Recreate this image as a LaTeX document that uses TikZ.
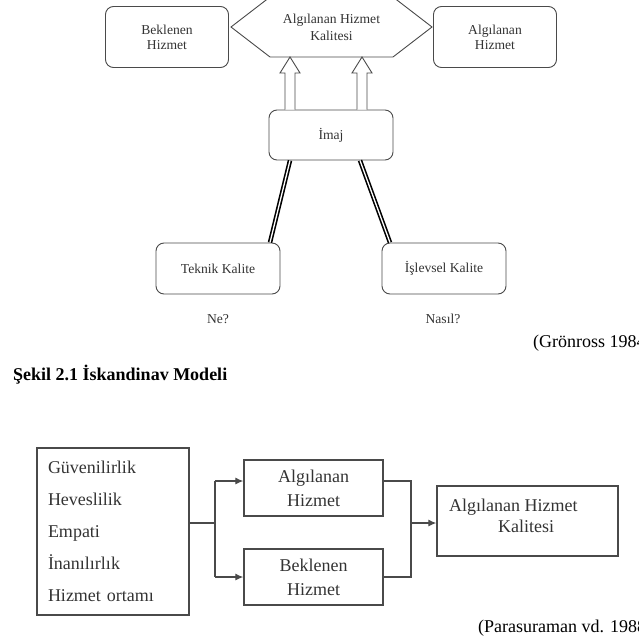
\documentclass[tikz,border=0pt]{standalone}
\usepackage{fontspec}
\setmainfont{Liberation Serif}
\usetikzlibrary{calc,arrows.meta}
\definecolor{ln}{HTML}{4A4A4A}
\definecolor{tx}{HTML}{333333}
\tikzset{
 rbox/.style={draw=ln, line width=0.9pt, rounded corners=8pt, minimum width=123pt, minimum height=61pt, align=center, text=tx, font=\fontsize{13.6}{15}\selectfont, inner sep=0pt},
 sbox/.style={draw=ln, line width=1.3pt, align=center, text=tx, font=\fontsize{18}{24}\selectfont, inner sep=0pt},
 tri/.style={draw=black, line width=1.6pt, double=white, double distance=1.3pt},
 hollow/.style={draw=ln, line width=0.9pt, fill=white, line join=miter},
 conn/.style={draw=ln, line width=1.2pt},
 arr/.style={conn, -{Latex[length=8pt,width=7pt]}},
 lbl/.style={text=tx, font=\fontsize{13.6}{15}\selectfont, inner sep=0pt},
 big/.style={text=black, font=\fontsize{18}{22}\selectfont, inner sep=0pt}
}
\begin{document}
\begin{tikzpicture}[x=1pt,y=-1pt]
\useasboundingbox (0,0) rectangle (638,640);
\clip (0,0) rectangle (638,640);
% ---------- top model ----------
\node[rbox] (bek) at (167,37) {Beklenen\\Hizmet};
\node[rbox] (alg) at (495,37) {Algılanan\\Hizmet};
\coordinate (hxl) at (231,27);
\coordinate (hxbl) at (270,57);
\coordinate (hxbr) at (393,57);
\coordinate (hxr) at (432,27);
\coordinate (hxtr) at (393,-3);
\coordinate (hxtl) at (270,-3);
\draw[draw=ln, line width=0.9pt] (hxl) -- (hxbl) -- (hxbr) -- (hxr) -- (hxtr) -- (hxtl) -- cycle;
\node[lbl, align=center, font=\fontsize{13.6}{17}\selectfont] (hex) at (331.5,27) {Algılanan Hizmet\\Kalitesi};
\node[rbox, minimum width=124pt, minimum height=50pt] (imaj) at (331,135) {İmaj};
\node[rbox, minimum width=124pt, minimum height=51pt] (tek) at (218,268.5) {Teknik Kalite};
\node[rbox, minimum width=124pt, minimum height=51pt] (isl) at (444,268.5) {İşlevsel Kalite};
% hollow arrows
\coordinate (a1t) at (290,57);
\coordinate (a2t) at (362,57);
\coordinate (a1b) at ($(imaj.north)+(-41,0)$);
\coordinate (a2b) at ($(imaj.north)+(31,0)$);
\draw[hollow] ($(a1b)+(-5,0)$) -- ($(a1t)+(-5,16)$) -- ($(a1t)+(-10,16)$) -- (a1t) -- ($(a1t)+(10,16)$) -- ($(a1t)+(5,16)$) -- ($(a1b)+(5,0)$);
\draw[hollow] ($(a2b)+(-5,0)$) -- ($(a2t)+(-5,16)$) -- ($(a2t)+(-10,16)$) -- (a2t) -- ($(a2t)+(10,16)$) -- ($(a2t)+(5,16)$) -- ($(a2b)+(5,0)$);
% triple lines
\draw[tri] ($(imaj.south)+(-41,0)$) -- ($(tek.north)+(52,0)$);
\draw[tri] ($(imaj.south)+(29,0)$) -- ($(isl.north)+(-54,0)$);
\node[lbl] (ne) at (218,319) {Ne?};
\node[lbl] (nasil) at (443,319) {Nasıl?};
\node[big, anchor=west] (cit1) at (533,343) {(Grönross 1984)};
\node[big, anchor=west, font=\bfseries\fontsize{18}{22}\selectfont] (cap) at (13,375) {Şekil 2.1 İskandinav Modeli};
% ---------- bottom model ----------
\node[sbox, minimum width=152pt, minimum height=167pt, align=left, text width=130pt, font=\fontsize{18}{32}\selectfont] (lst) at (113,531.5)
 {Güvenilirlik\\Heveslilik\\Empati\\İnanılırlık\\Hizmet ortamı};
\node[sbox, minimum width=139pt, minimum height=56pt] (balg) at (313.5,488) {Algılanan\\Hizmet};
\node[sbox, minimum width=139pt, minimum height=56pt] (bbek) at (313.5,577) {Beklenen\\Hizmet};
\node[sbox, minimum width=181pt, minimum height=70pt] (rk) at (527.5,521) {};
\node[lbl, anchor=west, align=left, font=\fontsize{18}{21}\selectfont] (rkt) at (449,515.5) {Algılanan Hizmet\\\hspace*{49pt}Kalitesi};
\coordinate (j1) at (215,523);
\coordinate (j2) at (215,481);
\coordinate (j3) at (215,577);
\coordinate (k1) at (411,481);
\coordinate (k2) at (411,577);
\coordinate (k3) at (411,523);
\draw[conn] (lst.east |- j1) -- (j1);
\draw[conn] (j2) -- (j3);
\draw[arr] (j2) -- (balg.west |- j2);
\draw[arr] (j3) -- (bbek.west |- j3);
\draw[conn] (balg.east |- k1) -- (k1) -- (k2) -- (bbek.east |- k2);
\draw[arr] (k3) -- (rk.west |- k3);
\node[big, anchor=west] (cit2) at (478,628) {(Parasuraman vd. 1988)};
\end{tikzpicture}
\end{document}
